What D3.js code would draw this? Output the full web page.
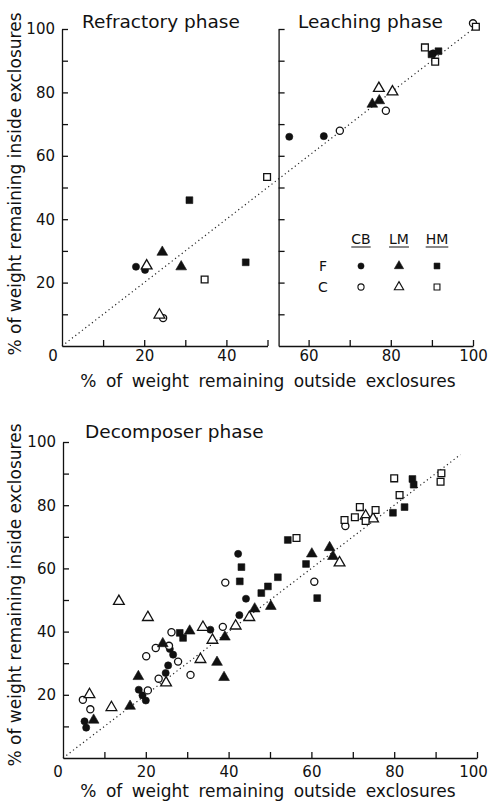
<!DOCTYPE html>
<html lang="en">

<head>
  <meta charset="utf-8">
  <title>Exclosure decomposition</title>
  <script src="https://cdn.jsdelivr.net/npm/d3@7/dist/d3.min.js"></script>
  <style>
    body {
      margin: 0;
      background: #fff;
    }

    svg {
      display: block;
      font-family: "DejaVu Sans", sans-serif;
    }

    .axis path,
    .axis line {
      stroke: #111;
      stroke-width: 1.3;
    }

    .axis text {
      font-size: 15px;
      fill: #111;
      font-family: "DejaVu Sans", sans-serif;
    }
  </style>
</head>

<body>
  <div id="chart"></div>

  <script type="text/javascript">
    // series: [outside, inside] % weight remaining
    var refCBF = [[18.0, 25.0], [20.2, 24.0]];
    var refCBC = [[24.6, 8.8]];
    var refLMF = [[24.4, 29.6], [29.0, 25.0]];
    var refLMC = [[20.6, 25.3], [23.7, 9.8]];
    var refHMF = [[31.0, 46.0], [44.7, 26.4]];
    var refHMC = [[34.7, 21.0], [49.9, 53.3]];

    var leaCBF = [[55.3, 66.0], [63.7, 66.2], [90.3, 92.3]];
    var leaCBC = [[67.6, 67.9], [78.8, 74.2], [100, 101.8]];
    var leaLMF = [[75.5, 76.3], [77.2, 77.4]];
    var leaLMC = [[77.1, 81.3], [80.4, 80.2]];
    var leaHMF = [[89.9, 92.0], [91.6, 93.0]];
    var leaHMC = [[88.3, 94.2], [90.8, 89.7], [100.7, 100.7]];

    var decCBF = [[5.2, 11.6], [5.6, 9.6], [18.3, 21.6], [19.2, 19.8], [20.0, 18.2], [24.8, 26.9],
      [25.4, 29.3], [25.8, 34.5], [26.6, 32.7], [35.6, 40.6], [42.3, 64.6], [42.6, 45.2], [44.2, 50.4]];
    var decCBC = [[4.8, 18.4], [6.6, 15.4], [20.1, 32.2], [20.5, 21.4], [22.4, 34.8], [23.1, 25.1],
      [26.2, 39.8], [25.6, 35.5], [27.8, 30.5], [30.8, 26.3], [38.6, 41.5], [39.2, 55.5],
      [60.7, 55.8], [68.2, 73.4]];
    var decLMF = [[7.4, 12.0], [16.2, 16.4], [18.2, 25.8], [24.1, 36.2], [30.6, 40.2], [37.2, 30.3],
      [38.9, 25.5], [39.1, 38.3], [46.3, 47.2], [50.2, 48.0], [60.1, 64.6], [64.4, 66.6], [65.2, 63.8]];
    var decLMC = [[6.4, 20.1], [11.7, 16.0], [13.5, 49.6], [20.5, 44.5], [24.9, 23.8], [33.2, 31.2],
      [33.8, 41.4], [36.1, 37.3], [41.7, 41.8], [45.0, 44.5], [66.8, 61.8], [73.1, 76.6], [74.9, 75.7]];
    var decHMF = [[28.2, 39.6], [29.0, 38.0], [42.7, 55.9], [43.1, 60.4], [47.9, 52.2], [49.5, 54.3],
      [51.9, 57.2], [54.3, 69.0], [58.7, 61.4], [61.4, 50.6], [79.7, 77.6], [82.5, 79.4],
      [84.4, 88.3], [84.7, 86.5]];
    var decHMC = [[56.4, 69.6], [68.0, 75.3], [70.5, 76.2], [71.7, 79.4], [73.1, 75.0], [75.5, 78.5],
      [80.0, 88.5], [81.3, 83.2], [91.4, 90.1], [91.2, 87.4]];

    var legendCols = ["CB", "LM", "HM"];
    var legendRows = ["F", "C"];
    var yTicks = [10, 20, 30, 40, 50, 60, 70, 80, 90, 100];
    var xTicksLeft = [10, 20, 30, 40, 50];
    var xTicksRight = [60, 70, 80, 90, 100];
    var xTicksAll = [10, 20, 30, 40, 50, 60, 70, 80, 90, 100];
    var labelled = [20, 40, 60, 80, 100];

    var width = 489, height = 804;
    var svg = d3.select('#chart').append('svg')
      .attr('width', width)
      .attr('height', height);

    var shapes = { CB: d3.symbolCircle, LM: d3.symbolTriangle, HM: d3.symbolSquare };
    var sizes = { CB: 40, LM: 50, HM: 46 };

    function fmt(d) {
      return labelled.indexOf(d) >= 0 ? d : '';
    }

    function drawPoints(g, x, y, data, kind, filled) {
      g.selectAll(null)
        .data(data)
        .enter()
        .append('path')
        .attr('transform', d => 'translate(' + x(d[0]) + ',' + y(d[1]) + ')')
        .attr('d', d3.symbol().type(shapes[kind]).size(sizes[kind]))
        .style('fill', filled ? '#111' : '#fff')
        .style('stroke', '#111')
        .style('stroke-width', filled ? 0.6 : 1.3);
    }

    function diagonal(g, x, y, end) {
      g.append('line')
        .attr('x1', x(0)).attr('y1', y(0))
        .attr('x2', x(end)).attr('y2', y(end))
        .style('stroke', '#222')
        .style('stroke-width', 1.2)
        .style('stroke-dasharray', '1.2,3');
    }

    function yAxisLabel(cy) {
      svg.append('text')
        .attr('transform', 'translate(21,' + cy + ') rotate(-90)')
        .attr('text-anchor', 'middle')
        .style('font-size', '17px')
        .style('fill', '#111')
        .text('% of weight remaining inside exclosures');
    }

    function xAxisLabel(cx, cy) {
      svg.append('text')
        .attr('x', cx).attr('y', cy)
        .attr('text-anchor', 'middle')
        .style('font-size', '17px')
        .style('word-spacing', '4px')
        .style('fill', '#111')
        .text('% of weight remaining outside exclosures');
    }

    // ---------- top panel: refractory + leaching ----------
    var xTop = d3.scaleLinear().domain([0, 100]).range([62, 473]);
    var yTop = d3.scaleLinear().domain([0, 100]).range([346, 29]);
    var xTopL = d3.scaleLinear().domain([0, 50]).range([xTop(0), xTop(50)]);
    var xTopR = d3.scaleLinear().domain([52.7, 100]).range([xTop(52.7), xTop(100)]);

    var topG = svg.append('g');
    diagonal(topG, xTop, yTop, 100);

    topG.append('g').attr('class', 'axis')
      .attr('transform', 'translate(0,' + yTop(0) + ')')
      .call(d3.axisBottom(xTopL).tickValues(xTicksLeft).tickFormat(fmt).tickSize(-6).tickSizeOuter(0).tickPadding(4));
    topG.append('g').attr('class', 'axis')
      .attr('transform', 'translate(0,' + yTop(0) + ')')
      .call(d3.axisBottom(xTopR).tickValues(xTicksRight).tickFormat(fmt).tickSize(-6).tickSizeOuter(0).tickPadding(4));
    topG.append('g').attr('class', 'axis')
      .attr('transform', 'translate(' + xTop(0) + ',0)')
      .call(d3.axisLeft(yTop).tickValues(yTicks).tickFormat(fmt).tickSize(-6).tickSizeOuter(0).tickPadding(7));
    topG.append('g').attr('class', 'axis')
      .attr('transform', 'translate(' + xTop(52.7) + ',0)')
      .call(d3.axisLeft(yTop).tickValues(yTicks).tickFormat('').tickSize(-6).tickSizeOuter(0));
    topG.append('text').attr('x', 53).attr('y', yTop(0) + 15)
      .attr('text-anchor', 'middle').style('font-size', '15px').style('fill', '#111').text('0');

    drawPoints(topG, xTop, yTop, refCBF, 'CB', true);
    drawPoints(topG, xTop, yTop, refCBC, 'CB', false);
    drawPoints(topG, xTop, yTop, refLMF, 'LM', true);
    drawPoints(topG, xTop, yTop, refLMC, 'LM', false);
    drawPoints(topG, xTop, yTop, refHMF, 'HM', true);
    drawPoints(topG, xTop, yTop, refHMC, 'HM', false);
    drawPoints(topG, xTop, yTop, leaCBF, 'CB', true);
    drawPoints(topG, xTop, yTop, leaCBC, 'CB', false);
    drawPoints(topG, xTop, yTop, leaLMF, 'LM', true);
    drawPoints(topG, xTop, yTop, leaLMC, 'LM', false);
    drawPoints(topG, xTop, yTop, leaHMF, 'HM', true);
    drawPoints(topG, xTop, yTop, leaHMC, 'HM', false);

    topG.append('text').attr('x', 82).attr('y', 28)
      .style('font-size', '18.5px').style('fill', '#111').text('Refractory phase');
    topG.append('text').attr('x', 298).attr('y', 28)
      .style('font-size', '18.5px').style('fill', '#111').text('Leaching phase');

    // legend
    var legX = d3.scalePoint().domain(legendCols).range([361, 437]);
    var legY = d3.scalePoint().domain(legendRows).range([266, 287]);
    var leg = topG.append('g');
    legendCols.forEach(function (c) {
      var t = leg.append('text').attr('x', legX(c)).attr('y', 244)
        .attr('text-anchor', 'middle').style('font-size', '14px').style('fill', '#111').text(c);
      var w = t.node().getComputedTextLength();
      leg.append('line').attr('x1', legX(c) - w / 2).attr('x2', legX(c) + w / 2)
        .attr('y1', 247).attr('y2', 247).style('stroke', '#111').style('stroke-width', 1);
      legendRows.forEach(function (r) {
        leg.append('path')
          .attr('transform', 'translate(' + legX(c) + ',' + legY(r) + ')')
          .attr('d', d3.symbol().type(shapes[c]).size(sizes[c] * 0.75))
          .style('fill', r === 'F' ? '#111' : '#fff')
          .style('stroke', '#111')
          .style('stroke-width', r === 'F' ? 0.6 : 1.1);
      });
    });
    legendRows.forEach(function (r) {
      leg.append('text').attr('x', 323).attr('y', legY(r) + 5)
        .attr('text-anchor', 'middle').style('font-size', '14px').style('fill', '#111').text(r);
    });

    yAxisLabel(184);
    xAxisLabel(268, 387);

    // ---------- bottom panel: decomposer ----------
    var xBot = d3.scaleLinear().domain([0, 100]).range([63, 477]);
    var yBot = d3.scaleLinear().domain([0, 100]).range([758, 442]);
    var botG = svg.append('g');
    diagonal(botG, xBot, yBot, 96);

    botG.append('g').attr('class', 'axis')
      .attr('transform', 'translate(0,' + yBot(0) + ')')
      .call(d3.axisBottom(xBot).tickValues(xTicksAll).tickFormat(fmt).tickSize(-6).tickSizeOuter(0).tickPadding(8))
      .selectAll('.tick text')
      .filter(d => d === 100)
      .attr('dx', -4);
    botG.append('g').attr('class', 'axis')
      .attr('transform', 'translate(' + xBot(0) + ',0)')
      .call(d3.axisLeft(yBot).tickValues(yTicks).tickFormat(fmt).tickSize(-6).tickSizeOuter(0).tickPadding(7));
    botG.append('text').attr('x', 58).attr('y', yBot(0) + 19)
      .attr('text-anchor', 'middle').style('font-size', '15px').style('fill', '#111').text('0');

    drawPoints(botG, xBot, yBot, decCBF, 'CB', true);
    drawPoints(botG, xBot, yBot, decCBC, 'CB', false);
    drawPoints(botG, xBot, yBot, decLMF, 'LM', true);
    drawPoints(botG, xBot, yBot, decLMC, 'LM', false);
    drawPoints(botG, xBot, yBot, decHMF, 'HM', true);
    drawPoints(botG, xBot, yBot, decHMC, 'HM', false);

    botG.append('text').attr('x', 85).attr('y', 438)
      .style('font-size', '18.5px').style('fill', '#111').text('Decomposer phase');

    yAxisLabel(595);
    xAxisLabel(268, 797);
  </script>
</body>

</html>
